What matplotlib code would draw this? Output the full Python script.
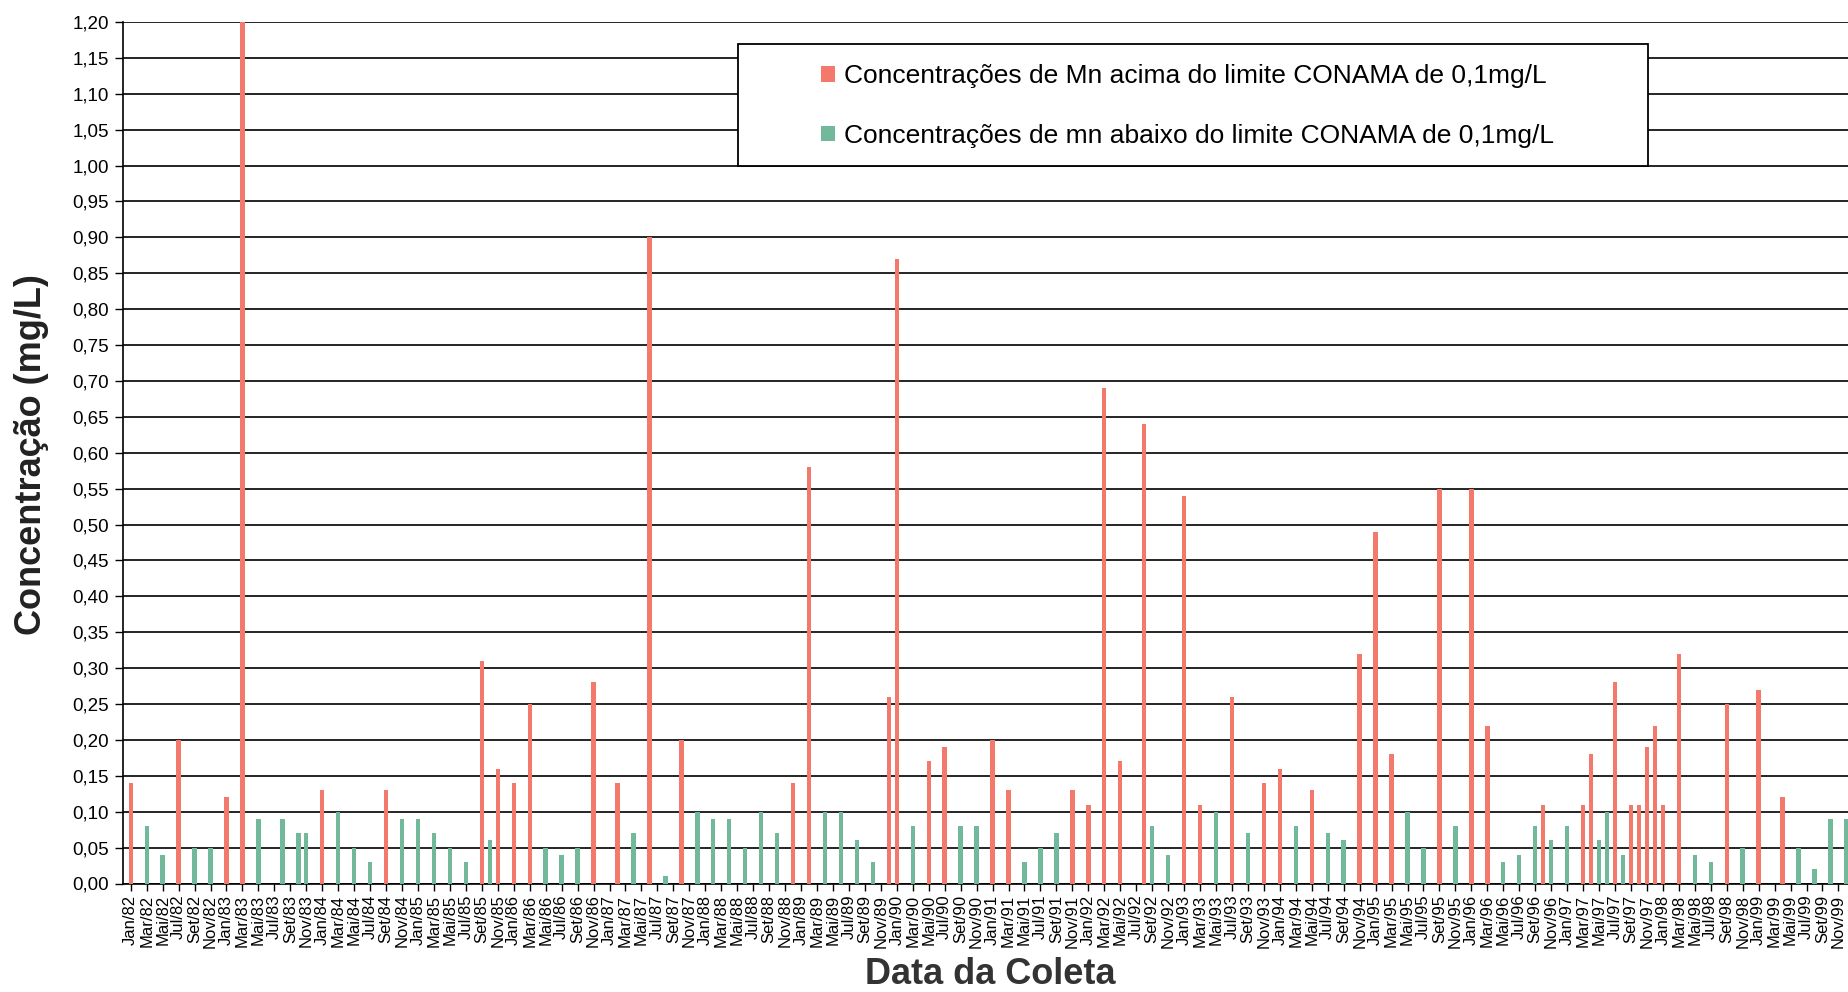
import matplotlib
matplotlib.use("Agg")
import matplotlib.pyplot as plt
from matplotlib.patches import Patch, Rectangle
import numpy as np

# amostras de Mn (mg/L)
datas = [
    "Jan/82", "Mar/82", "Mai/82", "Jul/82", "Set/82", "Nov/82",
    "Jan/83", "Mar/83", "Mai/83", "Ago/83", "Out/83", "Nov/83",
    "Jan/84", "Mar/84", "Mai/84", "Jul/84", "Set/84", "Nov/84",
    "Jan/85", "Mar/85", "Mai/85", "Jul/85", "Set/85", "Out/85", "Nov/85",
    "Jan/86", "Mar/86", "Mai/86", "Jul/86", "Set/86", "Nov/86",
    "Fev/87", "Abr/87", "Jun/87", "Ago/87", "Out/87", "Dez/87",
    "Fev/88", "Abr/88", "Jun/88", "Ago/88", "Out/88", "Dez/88",
    "Fev/89", "Abr/89", "Jun/89", "Ago/89", "Out/89", "Dez/89",
    "Jan/90", "Mar/90", "Mai/90", "Jul/90", "Set/90", "Nov/90",
    "Jan/91", "Mar/91", "Mai/91", "Jul/91", "Set/91", "Nov/91",
    "Jan/92", "Mar/92", "Mai/92", "Ago/92", "Set/92", "Nov/92",
    "Jan/93", "Mar/93", "Mai/93", "Jul/93", "Set/93", "Nov/93",
    "Jan/94", "Mar/94", "Mai/94", "Jul/94", "Set/94", "Nov/94",
    "Jan/95", "Mar/95", "Mai/95", "Jul/95", "Set/95", "Nov/95",
    "Jan/96", "Mar/96", "Mai/96", "Jul/96", "Set/96", "Out/96", "Nov/96",
    "Jan/97", "Mar/97", "Abr/97", "Mai/97", "Jun/97", "Jul/97", "Ago/97",
    "Set/97", "Out/97", "Nov/97", "Dez/97",
    "Jan/98", "Mar/98", "Mai/98", "Jul/98", "Set/98", "Nov/98",
    "Jan/99", "Abr/99", "Jun/99", "Ago/99", "Out/99", "Dez/99",
]
valores = [
    0.14, 0.08, 0.04, 0.20, 0.05, 0.05,
    0.12, 1.20, 0.09, 0.09, 0.07, 0.07,
    0.13, 0.10, 0.05, 0.03, 0.13, 0.09,
    0.09, 0.07, 0.05, 0.03, 0.31, 0.06, 0.16,
    0.14, 0.25, 0.05, 0.04, 0.05, 0.28,
    0.14, 0.07, 0.90, 0.01, 0.20, 0.10,
    0.09, 0.09, 0.05, 0.10, 0.07, 0.14,
    0.58, 0.10, 0.10, 0.06, 0.03, 0.26,
    0.87, 0.08, 0.17, 0.19, 0.08, 0.08,
    0.20, 0.13, 0.03, 0.05, 0.07, 0.13,
    0.11, 0.69, 0.17, 0.64, 0.08, 0.04,
    0.54, 0.11, 0.10, 0.26, 0.07, 0.14,
    0.16, 0.08, 0.13, 0.07, 0.06, 0.32,
    0.49, 0.18, 0.10, 0.05, 0.55, 0.08,
    0.55, 0.22, 0.03, 0.04, 0.08, 0.11, 0.06,
    0.08, 0.11, 0.18, 0.06, 0.10, 0.28, 0.04,
    0.11, 0.11, 0.19, 0.22,
    0.11, 0.32, 0.04, 0.03, 0.25, 0.05,
    0.27, 0.12, 0.05, 0.02, 0.09, 0.09,
]
meses = ["Jan", "Fev", "Mar", "Abr", "Mai", "Jun",
         "Jul", "Ago", "Set", "Out", "Nov", "Dez"]
anos = list(range(82, 100))
limite = 0.1

label_acima = "Concentrações de Mn acima do limite CONAMA de 0,1mg/L"
label_abaixo = "Concentrações de mn abaixo do limite CONAMA de 0,1mg/L"

cor_acima = "#F2796B"
cor_abaixo = "#72B89B"

plt.rcParams["font.family"] = ["Liberation Sans", "DejaVu Sans"]

# eixo de categorias mensal
todos_meses = [f"{m}/{a}" for a in anos for m in meses]
pos = np.array([todos_meses.index(d) for d in datas])
vals = np.array(valores)
cores = [cor_acima if v > limite else cor_abaixo for v in vals]

W, H = 1848, 992
fig = plt.figure(figsize=(W / 100, H / 100), dpi=100)
left, right, top, bottom = 123, 1848, 22, 883.5
ax = fig.add_axes([left / W, 1 - bottom / H, (right - left) / W, (bottom - top) / H])

ax.bar(pos, vals, width=0.55, color=cores, zorder=3)

ax.set_xlim(-0.97, 215.2)
ax.set_ylim(0, 1.2)

yt = np.round(np.arange(0, 1.2001, 0.05), 2)
ax.set_yticks(yt)
ax.set_yticklabels([f"{v:.2f}".replace(".", ",") for v in yt], fontsize=13.5)
ax.yaxis.grid(True, color="black", lw=1.2)
ax.set_axisbelow(True)

xt = np.arange(0, len(todos_meses), 2)
ax.set_xticks(xt)
ax.set_xticklabels([todos_meses[i] for i in xt], rotation=90, fontsize=12)
ax.tick_params(axis="x", length=5, width=1, pad=3)
ax.tick_params(axis="y", length=6, width=1, pad=4)

for s in ["top", "right"]:
    ax.spines[s].set_visible(False)
for s in ["left", "bottom"]:
    ax.spines[s].set_color("black")
    ax.spines[s].set_linewidth(1.2)

fig.text(32 / W, 1 - 455 / H, "Concentração (mg/L)", rotation=90,
         ha="center", va="center", fontsize=26, fontweight="bold", color="#222222")
fig.text(990 / W, 1 - 975 / H, "Data da Coleta",
         ha="center", va="center", fontsize=26, fontweight="bold", color="#333333")

# caixa da legenda
lx0, ly0, lx1, ly1 = 738, 44, 1648, 166
fig.patches.append(Rectangle((lx0 / W, 1 - ly1 / H), (lx1 - lx0) / W, (ly1 - ly0) / H,
                             transform=fig.transFigure, facecolor="white",
                             edgecolor="black", lw=1.3, zorder=4))
handles = [Patch(facecolor=cor_acima, edgecolor="none"),
           Patch(facecolor=cor_abaixo, edgecolor="none")]
leg = fig.legend(handles, [label_acima, label_abaixo], loc="center left",
                 bbox_to_anchor=(797 / W, 1 - 106 / H), frameon=False,
                 fontsize=19, handlelength=0.55, handleheight=0.55,
                 handletextpad=0.35, labelspacing=1.35)
leg.set_zorder(5)

fig.savefig("out.png", dpi=100)
